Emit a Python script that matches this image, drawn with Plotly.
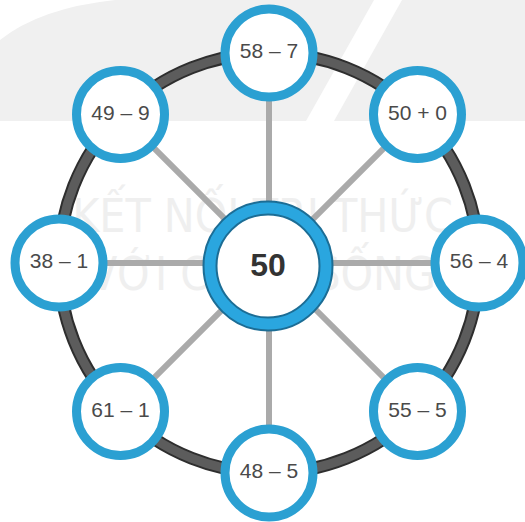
import numpy as np
import plotly.graph_objects as go

# ---- data ----
node_labels = ["58 – 7", "50 + 0", "56 – 4", "55 – 5", "48 – 5", "61 – 1", "38 – 1", "49 – 9"]
node_angles = [90, 45, 0, -45, -90, -135, 180, 135]
center_label = "50"
watermark_lines = ["KẾT NỐI TRI THỨC", "VỚI CUỘC SỐNG"]

# ---- geometry ----
W, H = 525, 522
cx, cy = 269, 263
R = 210
ang = np.radians(node_angles)
nx = cx + R * np.cos(ang)
ny = cy - R * np.sin(ang)

shapes = []
# background watermark shapes
shapes.append(dict(type="rect", x0=0, y0=0, x1=W, y1=121, fillcolor="#f0f0f0",
                   line=dict(width=0), layer="below"))
shapes.append(dict(type="path", path="M 0 0 L 115 0 Q 40 8 0 40 Z",
                   fillcolor="#ffffff", line=dict(width=0), layer="below"))
shapes.append(dict(type="path", path="M 374 0 L 402 0 L 334 121 L 306 121 Z",
                   fillcolor="#ffffff", line=dict(width=0), layer="below"))
# watermark text
for i, t in enumerate(watermark_lines):
    shapes.append(dict(type="rect", x0=0, x1=W, y0=185 + i * 58, y1=245 + i * 58,
                       line=dict(width=0), fillcolor="rgba(0,0,0,0)", layer="below",
                       label=dict(text=t, textposition="middle center",
                                  font=dict(size=46, color="#efefef", family="DejaVu Sans Condensed"))))
# spokes
for x, y in zip(nx, ny):
    shapes.append(dict(type="line", x0=cx, y0=cy, x1=x, y1=y,
                       line=dict(color="#aaaaaa", width=6), layer="below"))
# outer ring
shapes.append(dict(type="circle", x0=cx - R, x1=cx + R, y0=cy - R, y1=cy + R,
                   line=dict(color="#2e2e2e", width=13), layer="below"))
shapes.append(dict(type="circle", x0=cx - R, x1=cx + R, y0=cy - R, y1=cy + R,
                   line=dict(color="#5c5c5c", width=9), layer="below"))

fig = go.Figure()
# node circles
fig.add_trace(go.Scatter(x=nx, y=ny, mode="markers", hoverinfo="skip",
                         marker=dict(size=88, color="#ffffff",
                                     line=dict(color="#2ba0d2", width=9))))
# center circle
fig.add_trace(go.Scatter(x=[cx - 1], y=[cy + 3], mode="markers", hoverinfo="skip",
                         marker=dict(size=116, color="#ffffff",
                                     line=dict(color="#1c6d95", width=15))))
fig.add_trace(go.Scatter(x=[cx - 1], y=[cy + 3], mode="markers", hoverinfo="skip",
                         marker=dict(size=116, color="rgba(255,255,255,0)",
                                     line=dict(color="#2aa6df", width=11))))
# labels
fig.add_trace(go.Scatter(x=nx, y=ny, mode="text", text=node_labels, hoverinfo="skip",
                         textfont=dict(size=21, color="#4a4a4a", family="Liberation Sans")))
fig.add_trace(go.Scatter(x=[cx - 1], y=[cy + 5], mode="text", text=[f"<b>{center_label}</b>"],
                         hoverinfo="skip",
                         textfont=dict(size=32, color="#333333", family="Liberation Sans")))

fig.update_layout(
    width=W, height=H, margin=dict(l=0, r=0, t=0, b=0),
    paper_bgcolor="#ffffff", plot_bgcolor="#ffffff", showlegend=False,
    shapes=shapes,
    xaxis=dict(range=[0, W], visible=False, fixedrange=True),
    yaxis=dict(range=[H, 0], visible=False, fixedrange=True),
)
fig.write_html("out.html", config={"displayModeBar": False},
               post_script="document.body.style.margin='0px';document.body.style.overflow='hidden';")
